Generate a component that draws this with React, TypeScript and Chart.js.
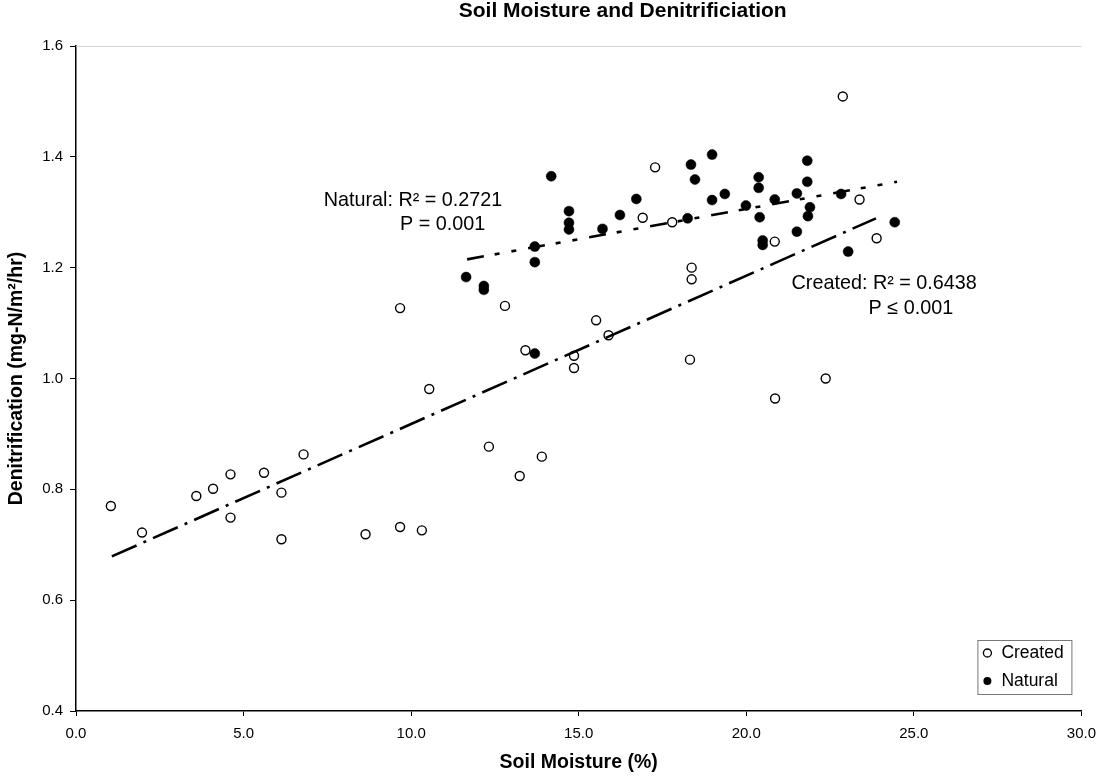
import React, { useEffect, useRef } from "react";
import { Chart, registerables } from "chart.js";

Chart.register(...registerables);

// ---- data ----
const createdX = [1.04, 1.97, 3.59, 4.09, 4.61, 4.61, 5.61, 6.13, 6.13, 6.79, 8.64, 9.67, 10.32, 9.67, 10.54, 12.32, 13.24, 12.8, 13.41, 13.9, 14.86, 14.86, 15.52, 15.89, 16.91, 17.28, 17.79, 18.37, 18.37, 18.32, 20.85, 20.86, 22.37, 22.88, 23.38, 23.89];
const createdY = [0.77, 0.722, 0.788, 0.801, 0.827, 0.749, 0.83, 0.794, 0.71, 0.863, 0.719, 0.732, 0.726, 1.127, 0.981, 0.877, 0.824, 1.131, 1.051, 0.859, 1.041, 1.019, 1.105, 1.078, 1.29, 1.381, 1.282, 1.2, 1.179, 1.034, 1.247, 0.964, 1.0, 1.509, 1.323, 1.253];

const naturalX = [11.64, 12.17, 12.17, 13.69, 13.69, 13.69, 14.18, 14.71, 14.71, 14.71, 15.71, 16.23, 16.72, 18.25, 18.35, 18.47, 18.98, 18.98, 19.36, 19.99, 20.37, 20.37, 20.4, 20.49, 20.49, 20.85, 21.51, 21.51, 21.82, 21.82, 21.9, 21.84, 22.83, 23.04, 24.43];
const naturalY = [1.183, 1.167, 1.16, 1.238, 1.21, 1.045, 1.365, 1.302, 1.281, 1.269, 1.27, 1.295, 1.324, 1.289, 1.386, 1.359, 1.404, 1.322, 1.333, 1.312, 1.363, 1.344, 1.291, 1.249, 1.241, 1.323, 1.334, 1.265, 1.393, 1.355, 1.309, 1.293, 1.333, 1.229, 1.282];

const createdFitX = [1.07, 23.87];
const createdFitY = [0.679, 1.289];
const naturalFitX = [11.67, 24.5];
const naturalFitY = [1.215, 1.355];

const xTicks = [0, 5, 10, 15, 20, 25, 30];
const yTicks = [0.4, 0.6, 0.8, 1.0, 1.2, 1.4, 1.6];

const chartTitle = "Soil Moisture and Denitrificiation";
const xTitle = "Soil Moisture (%)";
const yTitle = "Denitrification (mg-N/m\u00B2/hr)";
const seriesNames = ["Created", "Natural"];

const noteTexts = ["Natural: R\u00B2 = 0.2721", "P = 0.001", "Created: R\u00B2 = 0.6438", "P \u2264 0.001"];
const noteX = [7.39, 9.67, 21.35, 23.65];
const noteY = [1.322, 1.277, 1.171, 1.126];

const FONT = '"Liberation Sans", Arial, Helvetica, sans-serif';

const toPts = (xs: number[], ys: number[]) => xs.map((x, i) => ({ x, y: ys[i] }));

const decorPlugin = {
  id: "decor",
  afterDatasetsDraw(chart: any) {
    const { ctx, chartArea, scales } = chart;
    const xs = scales.x;
    const ys = scales.y;
    ctx.save();

    // faint top border
    ctx.strokeStyle = "#d4d4d4";
    ctx.lineWidth = 1;
    ctx.beginPath();
    ctx.moveTo(chartArea.left, chartArea.top + 0.5);
    ctx.lineTo(chartArea.right, chartArea.top + 0.5);
    ctx.stroke();

    // title
    ctx.fillStyle = "#000";
    ctx.font = `bold 21px ${FONT}`;
    ctx.textAlign = "center";
    ctx.textBaseline = "middle";
    ctx.fillText(chartTitle, (chartArea.left + chartArea.right) / 2 + 44, chartArea.top - 35);

    // annotations
    ctx.font = `19.8px ${FONT}`;
    ctx.textAlign = "left";
    noteTexts.forEach((t, i) => {
      ctx.fillText(t, xs.getPixelForValue(noteX[i]), ys.getPixelForValue(noteY[i]));
    });

    // legend
    const bw = 94, bh = 54;
    const bx = chartArea.right - 10 - bw;
    const by = chartArea.bottom - 17 - bh;
    ctx.fillStyle = "#fff";
    ctx.fillRect(bx, by, bw, bh);
    ctx.strokeStyle = "#777";
    ctx.lineWidth = 1;
    ctx.strokeRect(bx + 0.5, by + 0.5, bw, bh);
    ctx.font = `17.5px ${FONT}`;
    seriesNames.forEach((name, i) => {
      const cy = by + 13 + i * 28;
      ctx.beginPath();
      ctx.arc(bx + 10, cy, 4, 0, Math.PI * 2);
      if (i === 0) {
        ctx.fillStyle = "#fff";
        ctx.fill();
        ctx.strokeStyle = "#000";
        ctx.lineWidth = 1.3;
        ctx.stroke();
      } else {
        ctx.fillStyle = "#000";
        ctx.fill();
      }
      ctx.fillStyle = "#000";
      ctx.textAlign = "left";
      ctx.textBaseline = "middle";
      ctx.fillText(name, bx + 24, cy);
    });
    ctx.restore();
  },
};

export default function App() {
  const ref = useRef<HTMLCanvasElement | null>(null);

  useEffect(() => {
    document.body.style.margin = "0";
    document.body.style.overflow = "hidden";
    const canvas = ref.current;
    if (!canvas) return;
    const chart = new Chart(canvas, {
      type: "scatter",
      data: {
        datasets: [
          {
            type: "line",
            label: "Created fit",
            data: toPts(createdFitX, createdFitY),
            borderColor: "#000",
            borderWidth: 2.6,
            borderDash: [27, 7.5, 3, 7.5],
            pointRadius: 0,
            fill: false,
            order: 0,
          } as any,
          {
            type: "line",
            label: "Natural fit",
            data: toPts(naturalFitX, naturalFitY),
            borderColor: "#000",
            borderWidth: 2.6,
            borderDash: [17, 11, 5, 12, 5, 12],
            pointRadius: 0,
            fill: false,
            order: 0,
          } as any,
          {
            label: seriesNames[1],
            data: toPts(naturalX, naturalY),
            pointRadius: 5,
            pointBackgroundColor: "#000",
            pointBorderColor: "#000",
            pointBorderWidth: 0.5,
            order: 1,
          },
          {
            label: seriesNames[0],
            data: toPts(createdX, createdY),
            pointRadius: 4.5,
            pointBackgroundColor: "#fff",
            pointBorderColor: "#000",
            pointBorderWidth: 1.4,
            order: 2,
          },
        ],
      },
      options: {
        responsive: false,
        animation: false,
        events: [],
        layout: { padding: { top: 46, right: 18, bottom: 0, left: 0 } },
        plugins: {
          legend: { display: false },
          tooltip: { enabled: false },
          title: { display: false },
        },
        scales: {
          x: {
            type: "linear",
            min: 0,
            max: 30,
            afterBuildTicks: (s: any) => {
              s.ticks = xTicks.map((v) => ({ value: v }));
            },
            afterFit: (s: any) => {
              s.height = 66;
            },
            ticks: {
              color: "#000",
              font: { family: FONT, size: 15 },
              padding: 9,
              maxRotation: 0,
              autoSkip: false,
              callback: (v: any) => Number(v).toFixed(1),
            },
            grid: { display: true, drawOnChartArea: false, drawTicks: true, tickLength: 5, color: "#000", lineWidth: 1 },
            border: { display: true, color: "#000", width: 1.5 },
            title: {
              display: true,
              text: xTitle,
              color: "#000",
              font: { family: FONT, size: 19.5, weight: "bold" },
              padding: { top: 0, bottom: 3 },
            },
          },
          y: {
            type: "linear",
            min: 0.4,
            max: 1.6,
            afterBuildTicks: (s: any) => {
              s.ticks = yTicks.map((v) => ({ value: v }));
            },
            afterFit: (s: any) => {
              s.width = 76;
            },
            ticks: {
              color: "#000",
              font: { family: FONT, size: 15 },
              padding: 7,
              callback: (v: any) => Number(v).toFixed(1),
            },
            grid: { display: true, drawOnChartArea: false, drawTicks: true, tickLength: 6, color: "#000", lineWidth: 1 },
            border: { display: true, color: "#000", width: 1.5 },
            title: {
              display: true,
              text: yTitle,
              color: "#000",
              font: { family: FONT, size: 19.5, weight: "bold" },
              padding: { top: 5, bottom: 0 },
            },
          },
        },
      },
      plugins: [decorPlugin],
    });
    return () => chart.destroy();
  }, []);

  return (
    <div style={{ width: 1105, height: 777 }}>
      <canvas ref={ref} width={1105} height={777} style={{ display: "block", width: 1105, height: 777 }} />
    </div>
  );
}
